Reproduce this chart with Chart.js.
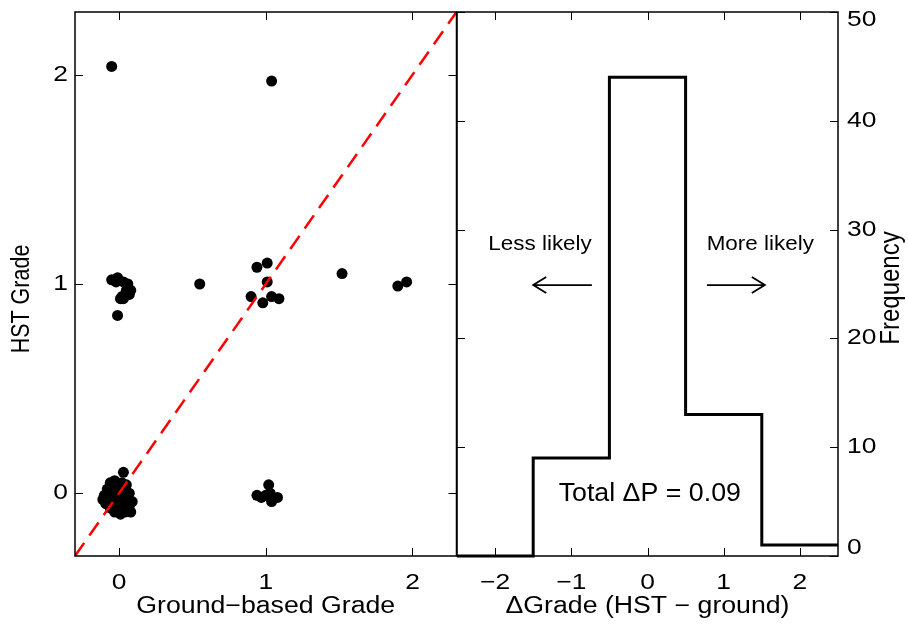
<!DOCTYPE html>
<html>
<head>
<meta charset="utf-8">
<script src="https://cdn.jsdelivr.net/npm/chart.js@4"></script>
<style>
  body { margin: 0; background: #fff; }
  #wrap { position: relative; width: 908px; height: 626px; overflow: hidden; background: #fff; }
  canvas { position: absolute; top: 0; }
  #scatter { left: 0; }
  #hist { left: 440px; }
</style>
</head>
<body>
<div id="wrap">
  <canvas id="scatter" width="462" height="626"></canvas>
  <canvas id="hist" width="468" height="626"></canvas>
</div>
<script>
// ground-based grade vs HST grade, one entry per object
const groundGrade = [
  -0.05, 1.04,
  -0.05, -0.01, 0.03, 0.06, 0.08, 0.07, 0.03, 0.01, -0.01, -0.02, 0.05, 0.02,
  0.94, 1.01, 1.01, 0.90, 0.98, 1.04, 1.09,
  0.55, 1.52, 1.90, 1.96,
  0.94, 1.02, 1.00, 1.04, 1.08, 0.97, 1.03,
  0.03, -0.06, -0.03, 0.02, 0.05, -0.08, -0.04, 0.00, 0.04, 0.07, -0.10, -0.06,
  -0.02, 0.02, 0.06, 0.09, -0.11, -0.07, -0.03, 0.01, 0.05, -0.09, -0.05, -0.01,
  0.03, 0.07, -0.06, -0.02, 0.02, 0.06, 0.08, -0.03, 0.01, 0.04, 0.00,
];
const hstGrade = [
  2.04, 1.97,
  1.02, 1.03, 1.01, 1.00, 0.97, 0.95, 0.93, 0.93, 0.85, 1.01, 0.97, 0.94,
  1.08, 1.10, 1.01, 0.94, 0.91, 0.94, 0.93,
  1.00, 1.05, 0.99, 1.01,
  -0.01, 0.04, -0.01, -0.04, -0.02, -0.02, 0.00,
  0.10, 0.05, 0.06, 0.05, 0.04, 0.02, 0.02, 0.03, 0.01, 0.00, -0.01, -0.01,
  0.00, -0.01, -0.02, -0.04, -0.03, -0.03, -0.03, -0.03, -0.04, -0.05, -0.05, -0.05,
  -0.06, -0.06, -0.07, -0.08, -0.08, -0.08, -0.09, -0.09, -0.10, -0.09, -0.01,
];
const gradeTicks = [0, 1, 2];
const gradeRange = [-0.3, 2.3];

// histogram of grade differences (HST - ground)
const binEdges = [-2.5, -1.5, -0.5, 0.5, 1.5, 2.5];
const binCounts = [0, 9, 44, 13, 1];
const diffTicks = [-2, -1, 0, 1, 2];
const freqTicks = [0, 10, 20, 30, 40, 50];

const FONT = '"Liberation Sans", Arial, Helvetica, sans-serif';
Chart.defaults.font.family = FONT;
Chart.defaults.color = "#000";

const minus = (v) => String(v).replace("-", "\u2212");

// the original figure's text is a bit wider than Arial, so stretch it
function drawText(ctx, text, x, y, o) {
  ctx.save();
  ctx.translate(x, y);
  if (o.rotate) ctx.rotate(o.rotate);
  ctx.scale(o.sx || 1, o.sy || 1);
  ctx.font = o.size + "px " + FONT;
  ctx.fillStyle = "#000";
  ctx.textAlign = o.align || "center";
  ctx.textBaseline = "middle";
  ctx.fillText(text, 0, 0);
  ctx.restore();
}

// box round the plot area, inward ticks on every side, tick labels and titles
const axisFrame = {
  id: "axisFrame",
  afterDatasetsDraw(chart, args, opts) {
    const { ctx, chartArea: a, scales } = chart;
    const len = 8;
    ctx.save();
    ctx.strokeStyle = "#000";
    ctx.lineWidth = 1;
    ctx.beginPath();
    scales.x.ticks.forEach((t) => {
      const px = Math.round(scales.x.getPixelForValue(t.value)) + 0.5;
      ctx.moveTo(px, a.bottom);
      ctx.lineTo(px, a.bottom - len);
      ctx.moveTo(px, a.top);
      ctx.lineTo(px, a.top + len);
    });
    scales.y.ticks.forEach((t) => {
      const py = Math.round(scales.y.getPixelForValue(t.value)) + 0.5;
      ctx.moveTo(a.left, py);
      ctx.lineTo(a.left + len, py);
      ctx.moveTo(a.right, py);
      ctx.lineTo(a.right - len, py);
    });
    ctx.stroke();
    ctx.lineWidth = 1.5;
    ctx.strokeRect(a.left, a.top, a.right - a.left, a.bottom - a.top);
    ctx.restore();

    scales.x.ticks.forEach((t) => {
      drawText(ctx, minus(t.value), scales.x.getPixelForValue(t.value), a.bottom + 27, { size: 22, sx: 1.2 });
    });
    const right = opts.ySide === "right";
    scales.y.ticks.forEach((t) => {
      let py = scales.y.getPixelForValue(t.value);
      py = Math.min(Math.max(py, a.top + 8), a.bottom - 8);
      if (right) {
        drawText(ctx, minus(t.value), a.right + 9, py, { size: 22, sx: 1.2, align: "left" });
      } else {
        drawText(ctx, minus(t.value), a.left - 7, py, { size: 22, sx: 1.2, align: "right" });
      }
    });
    drawText(ctx, opts.xTitle, (a.left + a.right) / 2, 607, { size: 23, sx: 1.16 });
    const ty = (a.top + a.bottom) / 2 + opts.yTitleShift;
    const tx = right ? a.right + 53 : a.left - 53;
    drawText(ctx, opts.yTitle, tx, ty, { size: opts.yTitleSize, sy: 1.16, rotate: -Math.PI / 2 });
  },
};

// fixed axis sizes so both panels line up edge to edge
const fixSize = (w, h) => (s) => {
  if (w !== null) s.width = w;
  if (h !== null) s.height = h;
  s.paddingTop = 0;
  s.paddingBottom = 0;
  s.paddingLeft = 0;
  s.paddingRight = 0;
};

const hiddenAxis = {
  grid: { display: false, drawTicks: false },
  border: { display: false },
  ticks: { display: false },
};

// scatter: ground vs HST
const points = groundGrade.map((g, i) => ({ x: g, y: hstGrade[i] }));

new Chart(document.getElementById("scatter"), {
  type: "scatter",
  data: {
    datasets: [
      {
        data: gradeRange.map((v) => ({ x: v, y: v })),
        showLine: true,
        borderColor: "#ff0000",
        borderWidth: 2.5,
        borderDash: [16, 9],
        pointRadius: 0,
      },
      {
        data: points,
        backgroundColor: "#000",
        borderColor: "#000",
        pointRadius: 5.5,
        borderWidth: 0,
      },
    ],
  },
  options: {
    responsive: false,
    devicePixelRatio: 1,
    animation: false,
    events: [],
    layout: { padding: { top: 12, right: 5, left: 0, bottom: 0 } },
    plugins: {
      legend: { display: false },
      tooltip: { enabled: false },
      axisFrame: { xTitle: "Ground\u2212based Grade", yTitle: "HST Grade", ySide: "left", yTitleShift: 15, yTitleSize: 21.5 },
    },
    scales: {
      x: {
        type: "linear",
        min: gradeRange[0],
        max: gradeRange[1],
        afterBuildTicks: (s) => { s.ticks = gradeTicks.map((v) => ({ value: v })); },
        afterFit: fixSize(null, 70),
        ...hiddenAxis,
      },
      y: {
        type: "linear",
        min: gradeRange[0],
        max: gradeRange[1],
        afterBuildTicks: (s) => { s.ticks = gradeTicks.map((v) => ({ value: v })); },
        afterFit: fixSize(75, null),
        ...hiddenAxis,
      },
    },
  },
  plugins: [axisFrame],
});

// histogram drawn as a stepped outline
const steps = binEdges.map((e, i) => ({ x: e, y: binCounts[Math.min(i, binCounts.length - 1)] }));

function arrow(ctx, x1, x2, y) {
  const dir = Math.sign(x2 - x1);
  ctx.beginPath();
  ctx.moveTo(x1, y);
  ctx.lineTo(x2, y);
  ctx.moveTo(x2 - dir * 13, y - 8);
  ctx.lineTo(x2, y);
  ctx.lineTo(x2 - dir * 13, y + 8);
  ctx.stroke();
}

const histNotes = {
  id: "histNotes",
  afterDraw(chart) {
    const { ctx, scales: { x, y } } = chart;
    ctx.save();
    ctx.strokeStyle = "#000";
    ctx.lineWidth = 1.8;
    drawText(ctx, "Less likely", x.getPixelForValue(-1.41), y.getPixelForValue(28.6), { size: 19.5, sx: 1.15 });
    drawText(ctx, "More likely", x.getPixelForValue(1.48), y.getPixelForValue(28.6), { size: 19.5, sx: 1.15 });
    arrow(ctx, x.getPixelForValue(-0.73), x.getPixelForValue(-1.5), y.getPixelForValue(24.9));
    arrow(ctx, x.getPixelForValue(0.78), x.getPixelForValue(1.54), y.getPixelForValue(24.9));
    drawText(ctx, "Total \u0394P = 0.09", x.getPixelForValue(0.03), y.getPixelForValue(5.7), { size: 25, sx: 1.07 });
    ctx.restore();
  },
};

new Chart(document.getElementById("hist"), {
  type: "line",
  data: {
    datasets: [
      {
        data: steps,
        stepped: true,
        borderColor: "#000",
        borderWidth: 3,
        pointRadius: 0,
        fill: false,
        clip: false,
      },
    ],
  },
  options: {
    responsive: false,
    devicePixelRatio: 1,
    animation: false,
    events: [],
    layout: { padding: { top: 12, left: 17, right: 0, bottom: 0 } },
    plugins: {
      legend: { display: false },
      tooltip: { enabled: false },
      axisFrame: { xTitle: "\u0394Grade (HST \u2212 ground)", yTitle: "Frequency", ySide: "right", yTitleShift: 4, yTitleSize: 24 },
    },
    scales: {
      x: {
        type: "linear",
        min: binEdges[0],
        max: binEdges[binEdges.length - 1],
        afterBuildTicks: (s) => { s.ticks = diffTicks.map((v) => ({ value: v })); },
        afterFit: fixSize(null, 70),
        ...hiddenAxis,
      },
      y: {
        type: "linear",
        position: "right",
        min: freqTicks[0],
        max: freqTicks[freqTicks.length - 1],
        afterBuildTicks: (s) => { s.ticks = freqTicks.map((v) => ({ value: v })); },
        afterFit: fixSize(70, null),
        ...hiddenAxis,
      },
    },
  },
  plugins: [axisFrame, histNotes],
});
</script>
</body>
</html>
